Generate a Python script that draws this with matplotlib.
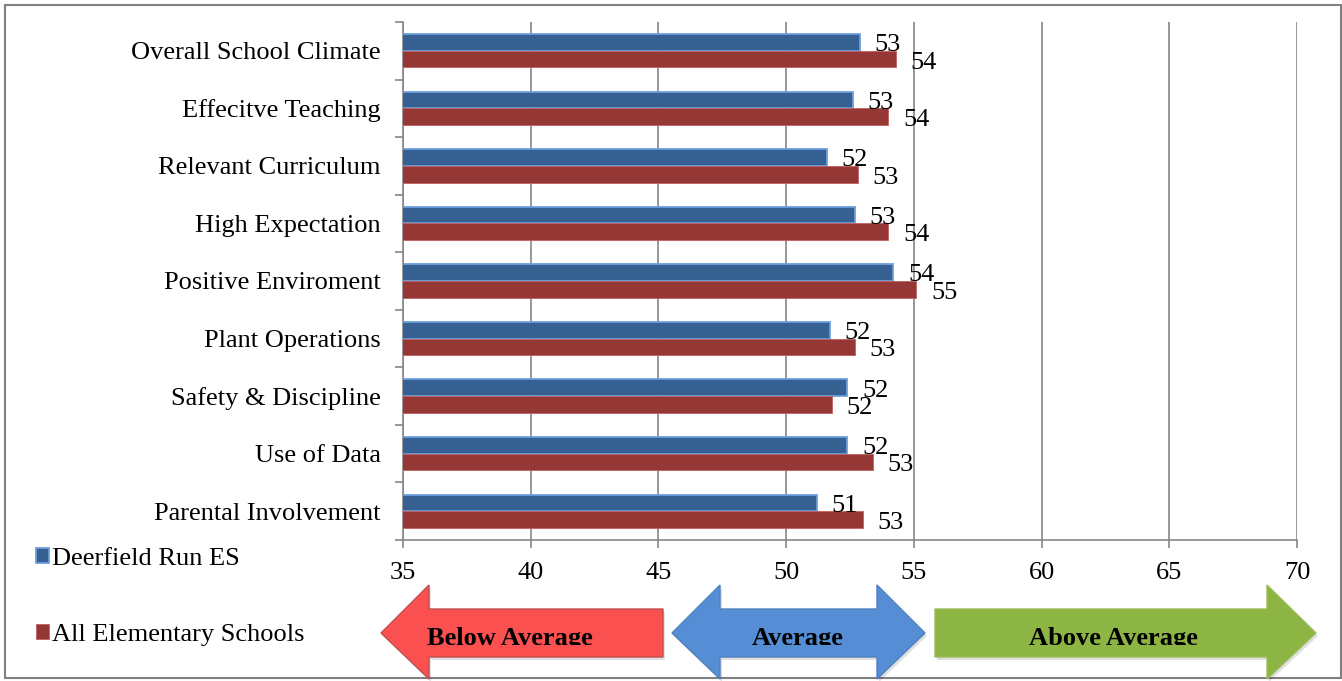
import matplotlib
matplotlib.use('Agg')
import matplotlib.pyplot as plt
import numpy as np
from matplotlib.patches import Polygon, Rectangle

plt.rcParams['font.family'] = ['Liberation Serif', 'DejaVu Serif']

# data
categories = ['Overall School Climate', 'Effecitve Teaching', 'Relevant Curriculum',
              'High Expectation', 'Positive Enviroment', 'Plant Operations',
              'Safety & Discipline', 'Use of Data', 'Parental Involvement']
deerfield = [52.9, 52.6, 51.6, 52.7, 54.2, 51.7, 52.4, 52.4, 51.2]
all_elem = [54.3, 54.0, 52.8, 54.0, 55.1, 52.7, 51.8, 53.4, 53.0]
series_names = ['Deerfield Run ES', 'All Elementary Schools']
xticks = [35, 40, 45, 50, 55, 60, 65, 70]
bands = ['Below Average', 'Average', 'Above Average']

W, H = 1342, 681
fig = plt.figure(figsize=(W / 100, H / 100), dpi=100)

def px(x, y):
    # pixel position -> figure fraction
    return (x / W, 1 - y / H)

ax = fig.add_axes([403 / W, 1 - 540 / H, 894 / W, 518 / H])

y = np.arange(len(categories))
h = 0.29
gray = '#868686'
fs = 19

b1 = ax.barh(y - h / 2, deerfield, height=h, color='#376092',
             edgecolor='#6a9fdc', linewidth=1.3, label=series_names[0], zorder=3)
b2 = ax.barh(y + h / 2, all_elem, height=h, color='#953735',
             edgecolor='#c0605d', linewidth=0.6, label=series_names[1], zorder=3)

for yy, v in zip(y - h / 2, deerfield):
    ax.annotate(f'{v:.0f}', xy=(v, yy), xytext=(10.5, -2), textcoords='offset points',
                va='center', ha='left', fontsize=fs, zorder=4)
for yy, v in zip(y + h / 2, all_elem):
    ax.annotate(f'{v:.0f}', xy=(v, yy), xytext=(10.5, -2.5), textcoords='offset points',
                va='center', ha='left', fontsize=fs, zorder=4)

ax.set_xlim(35, 70)
ax.set_ylim(len(categories) - 0.5, -0.5)
ax.set_xticks(xticks)
ax.set_yticks(y)
ax.set_yticklabels(categories, fontsize=fs)
ax.set_yticks(np.arange(len(categories) + 1) - 0.5, minor=True)
ax.tick_params(axis='y', which='major', length=0, pad=16)
ax.tick_params(axis='y', which='minor', length=6, width=1.2, color=gray, direction='out')
ax.tick_params(axis='x', length=6, width=1.2, color=gray, direction='out', labelsize=fs, pad=10)
ax.xaxis.grid(True, color=gray, linewidth=1.2, zorder=0)
ax.set_axisbelow(True)
for s in ['top', 'right']:
    ax.spines[s].set_visible(False)
for s in ['left', 'bottom']:
    ax.spines[s].set_color(gray)
    ax.spines[s].set_linewidth(1.2)

# legend at the bottom left
fig.legend(handles=[b1, b2], labels=series_names, loc='upper left',
           bbox_to_anchor=px(12, 524), frameon=False, fontsize=fs,
           handlelength=0.5, handleheight=0.5, handletextpad=0.1, labelspacing=2.05)

# outer border
fig.patches.append(Rectangle(px(5, 678), 1336 / W, 673 / H, transform=fig.transFigure,
                             fill=False, edgecolor='#808080', linewidth=1.5))

# band arrows
top_h, top_b, bot_b, bot_h, mid = 585, 609, 657, 679, 633
shapes = [
    [(381, mid), (429, top_h), (429, top_b), (663, top_b), (663, bot_b), (429, bot_b), (429, bot_h)],
    [(672, mid), (720, top_h), (720, top_b), (877, top_b), (877, top_h), (925, mid),
     (877, bot_h), (877, bot_b), (720, bot_b), (720, bot_h)],
    [(935, top_b), (1267, top_b), (1267, top_h), (1316, mid), (1267, bot_h), (1267, bot_b), (935, bot_b)],
]
fills = ['#fa5050', '#558ed5', '#8db543']
edges = ['#c0504d', '#4f81bd', '#9bbb59']
text_x = [510, 798, 1113]
clip = Rectangle(px(0, 645), 1, 645 / H, transform=fig.transFigure, visible=False)
fig.patches.append(clip)
for pts, fc, ec, tx, lab in zip(shapes, fills, edges, text_x, bands):
    shadow = Polygon([px(a + 2, b + 3) for a, b in pts], closed=True, transform=fig.transFigure,
                     facecolor='#000000', alpha=0.12, edgecolor='none')
    fig.patches.append(shadow)
    poly = Polygon([px(a, b) for a, b in pts], closed=True, transform=fig.transFigure,
                   facecolor=fc, edgecolor=ec, linewidth=1)
    fig.patches.append(poly)
    t = fig.text(*px(tx, 638), lab, ha='center', va='center', fontsize=fs, fontweight='bold')
    t.set_clip_path(clip)

fig.savefig('out.png', dpi=100)
